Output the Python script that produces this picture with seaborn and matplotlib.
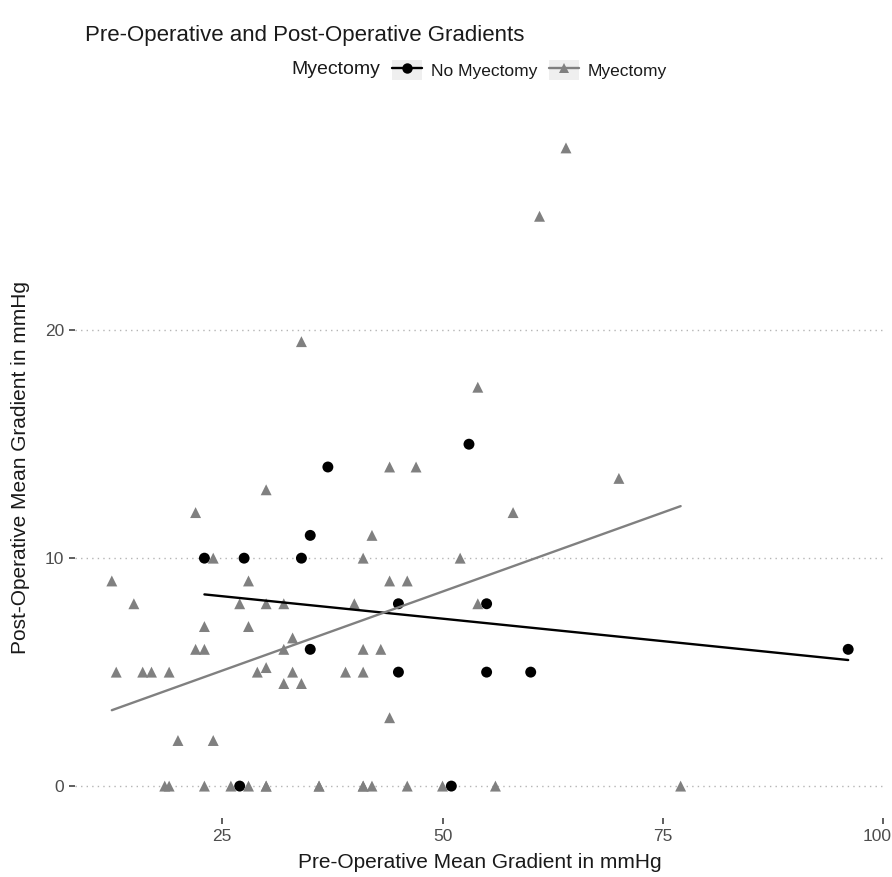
import numpy as np
import pandas as pd
import matplotlib
matplotlib.use('Agg')
import matplotlib.pyplot as plt
import matplotlib.transforms as mtransforms
import seaborn as sns
from matplotlib.lines import Line2D
from matplotlib.patches import Patch
from matplotlib.legend_handler import HandlerTuple

groups = ['No Myectomy', 'Myectomy']

no_myo_pre = [23, 27.5, 34, 35, 37, 53, 45, 55, 45, 55, 60, 96, 27, 51, 35]
no_myo_post = [10, 10, 10, 11, 14, 15, 8, 8, 5, 5, 5, 6, 0, 0, 6]

# includes a few overlapping (hidden) points on the zero row
myo_pre = [64, 61, 34, 54, 44, 47, 70, 30, 22, 58,
           42, 41, 52, 24, 12.5, 28, 44, 46, 15, 27,
           30, 32, 40, 54, 23, 28, 33, 22, 23, 32,
           41, 43, 13, 16, 17, 19, 29, 30, 33, 39,
           41, 32, 34, 44, 20, 24,
           18.5, 19, 23, 26, 28, 30, 36, 41, 42, 46, 50, 56, 77,
           30, 36, 41]
myo_post = [28, 25, 19.5, 17.5, 14, 14, 13.5, 13, 12, 12,
            11, 10, 10, 10, 9, 9, 9, 9, 8, 8,
            8, 8, 8, 8, 7, 7, 6.5, 6, 6, 6,
            6, 6, 5, 5, 5, 5, 5, 5.2, 5, 5,
            5, 4.5, 4.5, 3, 2, 2,
            0, 0, 0, 0, 0, 0, 0, 0, 0, 0, 0, 0, 0,
            0, 0, 0]

x_ticks = [25, 50, 75, 100]
y_ticks = [0, 10, 20]

title = 'Pre-Operative and Post-Operative Gradients'
x_label = 'Pre-Operative Mean Gradient in mmHg'
y_label = 'Post-Operative Mean Gradient in mmHg'
legend_title = 'Myectomy'

df = pd.DataFrame({
    'pre': no_myo_pre + myo_pre,
    'post': no_myo_post + myo_post,
    'grp': [groups[0]] * len(no_myo_pre) + [groups[1]] * len(myo_pre),
})

sns.set_style('white')
plt.rcParams['font.family'] = ['Liberation Sans', 'DejaVu Sans']

W, H = 892, 877
fig = plt.figure(figsize=(W / 100, H / 100), dpi=100)
left, right, top, bottom = 75, 885, 116, 818
ax = fig.add_axes([left / W, 1 - bottom / H, (right - left) / W, (bottom - top) / H])

colors = {'No Myectomy': '#000000', 'Myectomy': '#808080'}
markers = {'No Myectomy': 'o', 'Myectomy': '^'}

sns.scatterplot(data=df, x='pre', y='post', hue='grp', style='grp',
                palette=colors, markers=markers, s=62, edgecolor='none',
                linewidth=0, legend=False, ax=ax, zorder=3)
for g in groups:
    sub = df[df.grp == g]
    sns.regplot(data=sub, x='pre', y='post', scatter=False, ci=None,
                color=colors[g], truncate=True,
                line_kws=dict(lw=1.7, zorder=4), ax=ax)

xmin, xmax = df.pre.min(), df.pre.max()
ymin, ymax = df.post.min(), df.post.max()
xr, yr = xmax - xmin, ymax - ymin
ax.set_xlim(xmin - 0.05 * xr, xmax + 0.05 * xr)
ax.set_ylim(ymin - 0.05 * yr, ymax + 0.05 * yr)
ax.set_xticks(x_ticks)
ax.set_yticks(y_ticks)
ax.set_xticklabels([str(t) for t in x_ticks])
ax.set_yticklabels([str(t) for t in y_ticks])

ax.grid(False)
ax.yaxis.grid(True, linestyle=(0, (1, 3)), color='#b5b5b5', lw=1.0)
for s in ax.spines.values():
    s.set_visible(False)
ax.tick_params(axis='both', length=4, width=1.1, color='#333333',
               labelcolor='#4d4d4d', labelsize=12.5, pad=4, left=True, bottom=True)

# keep the last x tick label inside the canvas
last = ax.get_xticklabels()[-1]
last.set_transform(last.get_transform() +
                   mtransforms.ScaledTranslation(-6 / 100, 0, fig.dpi_scale_trans))

ax.set_xlabel(x_label, fontsize=15, color='#1a1a1a')
ax.set_ylabel(y_label, fontsize=15, color='#1a1a1a')
ax.xaxis.set_label_coords(0.5, -(853 - bottom) / (bottom - top))
ax.yaxis.set_label_coords(-(left - 30) / (right - left), 0.5)

fig.text(85 / W, 1 - 35 / H, title, fontsize=16, color='#1a1a1a',
         ha='left', va='center')

fig.text(380 / W, 1 - 70 / H, legend_title, fontsize=14, color='#1a1a1a',
         ha='right', va='center')
handles = []
for g in groups:
    bg = Patch(facecolor='#efefef', edgecolor='none')
    ln = Line2D([0], [0], color=colors[g], lw=1.7, marker=markers[g],
                markersize=7.5, markeredgewidth=0)
    handles.append((bg, ln))
leg = fig.legend(handles, groups, loc='center left',
                 bbox_to_anchor=(392 / W, 1 - 70 / H), ncol=2, frameon=False,
                 fontsize=12.5,
                 handler_map={tuple: HandlerTuple(ndivide=1, pad=0)},
                 handlelength=1.72, handleheight=1.4, handletextpad=0.5,
                 columnspacing=0.7, borderpad=0, borderaxespad=0)
for t in leg.get_texts():
    t.set_color('#1a1a1a')

fig.savefig('out.png', dpi=100, facecolor='white')
